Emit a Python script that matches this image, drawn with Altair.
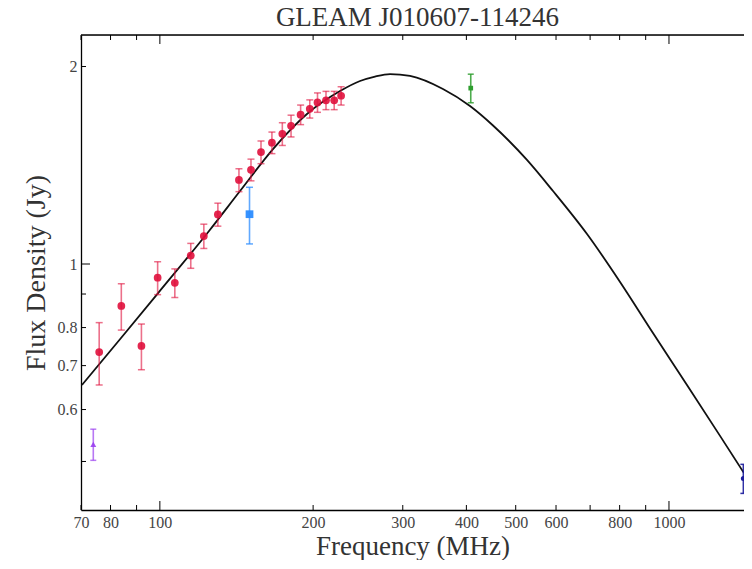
import altair as alt
import pandas as pd

# ---- data ----
gleam_freq = [76, 84, 92, 99, 107, 115, 122, 130, 143, 151, 158, 166, 174, 181, 189, 197, 204, 212, 220, 227]
gleam_flux = [0.734, 0.863, 0.750, 0.953, 0.936, 1.030, 1.103, 1.190, 1.343, 1.392, 1.481, 1.531,
              1.579, 1.624, 1.689, 1.724, 1.763, 1.776, 1.776, 1.805]
gleam_err = [0.080, 0.070, 0.060, 0.055, 0.047, 0.045, 0.047, 0.048, 0.054, 0.053, 0.059, 0.058,
             0.063, 0.062, 0.058, 0.055, 0.060, 0.057, 0.057, 0.058]

vlss_freq, vlss_flux, vlss_err = [74], [0.531], [0.029]
tgss_freq, tgss_flux, tgss_err = [150], [1.191], [0.118]
mrc_freq, mrc_flux, mrc_err = [408], [1.854], [0.093]
nvss_freq, nvss_flux, nvss_err = [1400], [0.471], [0.024]

fit_freq = [70.3, 83.5, 99.2, 124.9, 143.7, 166.8, 194.5, 225.9, 247.3, 264.6, 283.2, 310.0, 359.8,
            406.6, 451.2, 526.1, 591.9, 690.3, 801.5, 930.2, 1084.9, 1259.8, 1404.0]
fit_flux = [0.654, 0.768, 0.903, 1.123, 1.292, 1.497, 1.693, 1.835, 1.901, 1.931, 1.948, 1.935, 1.848,
            1.741, 1.626, 1.441, 1.292, 1.111, 0.939, 0.785, 0.654, 0.547, 0.480]

x_ticks_minor = [70, 80, 90, 200, 300, 400, 500, 600, 700, 800, 900]
x_ticks_major = [100, 1000]
x_labels = [70, 80, 100, 200, 300, 400, 500, 600, 800, 1000]
y_ticks_minor = [0.5, 0.6, 0.7, 0.8, 0.9, 2]
y_ticks_major = [1]
y_labels = [0.6, 0.7, 0.8, 1, 2]

# ---- layout ----
W, H = 663, 475
XDOM = [70, 1404]
YDOM = [0.4217, 2.234]
FONT = "Liberation Serif"

xaxis = alt.Axis(values=x_labels, format="~g", ticks=False, domain=True, domainColor="black",
                 domainWidth=1.3, labelFont=FONT, labelFontSize=16, labelColor="#444",
                 labelPadding=4, labelFlush=False, grid=False,
                 title="Frequency (MHz)", titleFont=FONT, titleFontSize=27,
                 titleFontWeight="normal", titleColor="#333", titlePadding=3)
yaxis = alt.Axis(values=y_labels, format="~g", ticks=False, domain=True, domainColor="black",
                 domainWidth=1.3, labelFont=FONT, labelFontSize=16, labelColor="#444",
                 labelPadding=4, grid=False,
                 title="Flux Density (Jy)", titleFont=FONT, titleFontSize=28,
                 titleFontWeight="normal", titleColor="#333", titlePadding=7)


def xe(field="f"):
    return alt.X(f"{field}:Q", scale=alt.Scale(type="log", domain=XDOM, nice=False), axis=xaxis)


def ye(field="s"):
    return alt.Y(f"{field}:Q", scale=alt.Scale(type="log", domain=YDOM, nice=False), axis=yaxis)


def src(freq, flux, err):
    return pd.DataFrame({"f": freq, "s": flux,
                         "lo": [a - b for a, b in zip(flux, err)],
                         "hi": [a + b for a, b in zip(flux, err)]})


def errlayers(df, color, opacity, cap):
    bar = alt.Chart(df).mark_rule(color=color, opacity=opacity, strokeWidth=1.6).encode(
        x=xe(), y=ye("lo"), y2="hi")
    lo = alt.Chart(df).mark_tick(color=color, opacity=opacity, orient="horizontal",
                                 size=cap, thickness=1.5).encode(x=xe(), y=ye("lo"))
    hi = alt.Chart(df).mark_tick(color=color, opacity=opacity, orient="horizontal",
                                 size=cap, thickness=1.5).encode(x=xe(), y=ye("hi"))
    return [bar, lo, hi]


fit_df = pd.DataFrame({"f": fit_freq, "s": fit_flux})

curve = alt.Chart(fit_df).mark_line(color="#111", strokeWidth=1.8, clip=True,
                                     interpolate="monotone").encode(x=xe(), y=ye())

layers = [curve]

gleam = src(gleam_freq, gleam_flux, gleam_err)
layers += errlayers(gleam, "#e0103c", 0.6, 7)
layers.append(alt.Chart(gleam).mark_point(filled=True, shape="circle", size=60,
                                          color="#e0103c", opacity=0.9).encode(x=xe(), y=ye()))

vlss = src(vlss_freq, vlss_flux, vlss_err)
layers += errlayers(vlss, "#9a3ff0", 0.7, 6)
layers.append(alt.Chart(vlss).mark_point(filled=True, shape="triangle-up", size=35,
                                         color="#9a3ff0", opacity=0.9).encode(x=xe(), y=ye()))

tgss = src(tgss_freq, tgss_flux, tgss_err)
layers += errlayers(tgss, "#2b8cff", 0.75, 7)
layers.append(alt.Chart(tgss).mark_point(filled=True, shape="square", size=60,
                                         color="#2b8cff", opacity=0.95).encode(x=xe(), y=ye()))

mrc = src(mrc_freq, mrc_flux, mrc_err)
layers += errlayers(mrc, "#2e9e2e", 0.85, 6)
layers.append(alt.Chart(mrc).mark_point(filled=True, shape="square", size=22,
                                        color="#2e9e2e", opacity=1).encode(x=xe(), y=ye()))

nvss = src(nvss_freq, nvss_flux, nvss_err)
layers += errlayers(nvss, "#1c1c9c", 0.9, 6)
layers.append(alt.Chart(nvss).mark_point(filled=True, shape="circle", size=25,
                                         color="#1c1c9c", opacity=1).encode(x=xe(), y=ye()))

# ---- frame: top line and inward ticks ----
top_line = alt.Chart(pd.DataFrame({"a": [0]})).mark_rule(color="black", strokeWidth=1.3).encode(
    x=alt.value(0), x2=alt.value(W), y=alt.value(0))
layers.append(top_line)

for vals, ln in [(x_ticks_minor, 5), (x_ticks_major, 9)]:
    d = pd.DataFrame({"f": vals})
    layers.append(alt.Chart(d).mark_rule(color="black", strokeWidth=1).encode(
        x=xe(), y=alt.value(H), y2=alt.value(H - ln)))
    layers.append(alt.Chart(d).mark_rule(color="black", strokeWidth=1).encode(
        x=xe(), y=alt.value(0), y2=alt.value(ln)))

for vals, ln in [(y_ticks_minor, 5), (y_ticks_major, 9)]:
    d = pd.DataFrame({"s": vals})
    layers.append(alt.Chart(d).mark_rule(color="black", strokeWidth=1).encode(
        y=ye(), x=alt.value(0), x2=alt.value(ln)))

chart = alt.layer(*layers).properties(
    width=W, height=H,
    padding={"left": 73, "top": 27, "right": 0, "bottom": 50},
    autosize=alt.AutoSizeParams(type="none"),
    title=alt.Title("GLEAM J010607-114246", font=FONT, fontSize=27, fontWeight="normal",
                    color="#333", anchor="middle", offset=2, dx=5),
).configure_view(stroke=None).configure(background="white")

chart.save("out.html", embed_options={"renderer": "svg", "actions": False})
